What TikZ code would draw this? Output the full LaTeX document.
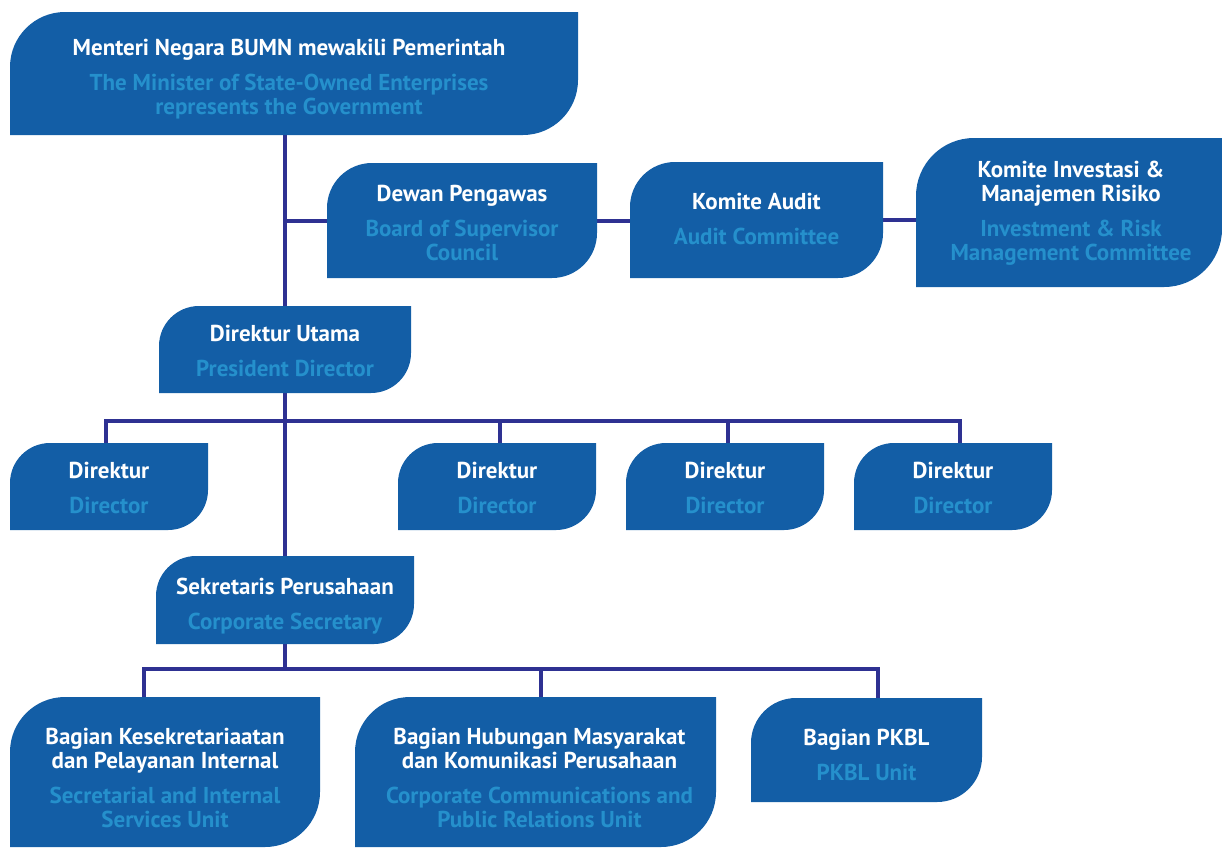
\documentclass[tikz,border=0pt]{standalone}
\usepackage{fontspec}
\setmainfont{PT Sans}
\usetikzlibrary{backgrounds}
\definecolor{boxblue}{HTML}{135EA6}
\definecolor{engblue}{HTML}{2590CC}
\definecolor{linenavy}{HTML}{2E3192}
\newcommand\eng[1]{{\color{engblue}#1}}
\tikzset{
  leaf/.style={inner sep=0pt, outer sep=0pt,
    path picture={
      \fill[boxblue] (path picture bounding box.south west)
        -- ([yshift=-#1pt]path picture bounding box.north west)
        arc[start angle=180,end angle=90,radius=#1pt]
        -- (path picture bounding box.north east)
        -- ([yshift=#1pt]path picture bounding box.south east)
        arc[start angle=0,end angle=-90,radius=#1pt] -- cycle;}},
  txt/.style={inner sep=0pt, align=center, text=white,
    font=\bfseries\fontsize{23}{24}\selectfont},
  conn/.style={line width=4pt, draw=linenavy}
}
\begin{document}
\begin{tikzpicture}[x=1pt,y=1pt]
\useasboundingbox (0,0) rectangle (1222,-847);
% boxes
\node[leaf=55, minimum width=568, minimum height=123] (m) at (294,-73.5) {};
\node[leaf=45, minimum width=270, minimum height=115] (d) at (462,-220.5) {};
\node[leaf=45, minimum width=253, minimum height=116] (ka) at (756.5,-220) {};
\node[leaf=58, minimum width=306, minimum height=149] (ki) at (1069,-212.5) {};
\node[leaf=40, minimum width=252, minimum height=87] (du) at (285,-349.5) {};
\node[leaf=40, minimum width=198, minimum height=87] (d1) at (109,-486.5) {};
\node[leaf=40, minimum width=198, minimum height=87] (d2) at (497,-486.5) {};
\node[leaf=40, minimum width=198, minimum height=87] (d3) at (725,-486.5) {};
\node[leaf=40, minimum width=198, minimum height=87] (d4) at (953,-486.5) {};
\node[leaf=40, minimum width=258, minimum height=88] (sek) at (285,-600) {};
\node[leaf=55, minimum width=310, minimum height=150] (b1) at (165,-772) {};
\node[leaf=55, minimum width=361, minimum height=150] (b2) at (535.5,-772) {};
\node[leaf=45, minimum width=231, minimum height=104] (b3) at (866.5,-750) {};
% texts
\node[txt] (mt) at ([xshift=-5pt,yshift=-6pt]m.center)
  {Menteri Negara BUMN mewakili Pemerintah\\[11pt]\eng{The Minister of State-Owned Enterprises}\\\eng{represents the Government}};
\node[txt] (dt) at ([yshift=-2.5pt]d.center)
  {Dewan Pengawas\\[11pt]\eng{Board of Supervisor}\\\eng{Council}};
\node[txt] (kat) at ([yshift=1pt]ka.center)
  {Komite Audit\\[11pt]\eng{Audit Committee}};
\node[txt] (kit) at ([xshift=2pt,yshift=-1pt]ki.center)
  {Komite Investasi \&\\Manajemen Risiko\\[11pt]\eng{Investment \& Risk}\\\eng{Management Committee}};
\node[txt] (dut) at ([yshift=-1pt]du.center)
  {Direktur Utama\\[11pt]\eng{President Director}};
\node[txt] (d1t) at ([yshift=-1.5pt]d1.center) {Direktur\\[11pt]\eng{Director}};
\node[txt] (d2t) at ([yshift=-1.5pt]d2.center) {Direktur\\[11pt]\eng{Director}};
\node[txt] (d3t) at ([yshift=-1.5pt]d3.center) {Direktur\\[11pt]\eng{Director}};
\node[txt] (d4t) at ([yshift=-1.5pt]d4.center) {Direktur\\[11pt]\eng{Director}};
\node[txt] (sekt) at ([yshift=-6pt]sek.center)
  {Sekretaris Perusahaan\\[11pt]\eng{Corporate Secretary}};
\node[txt] (b1t) at ([yshift=-6pt]b1.center)
  {Bagian Kesekretariaatan\\dan Pelayanan Internal\\[11pt]\eng{Secretarial and Internal}\\\eng{Services Unit}};
\node[txt] (b2t) at ([xshift=4pt,yshift=-6pt]b2.center)
  {Bagian Hubungan Masyarakat\\dan Komunikasi Perusahaan\\[11pt]\eng{Corporate Communications and}\\\eng{Public Relations Unit}};
\node[txt] (b3t) at ([yshift=-4.5pt]b3.center)
  {Bagian PKBL\\[11pt]\eng{PKBL Unit}};
\coordinate (bus1) at (0,-421);
\coordinate (bus2) at (0,-669);
% connectors
\begin{scope}[on background layer]
\draw[conn] (m.south -| du.north) -- (sek.north);
\draw[conn] (d.west -| du.north) -- (d.west);
\draw[conn] (d.east) -- (d.east -| ka.west);
\draw[conn] (ka.east) -- (ka.east -| ki.west);
\draw[conn] ([xshift=-3pt]d1.north) -- ([xshift=-3pt]d1.north |- bus1) -- ([xshift=7pt]d4.north |- bus1) -- ([xshift=7pt]d4.north);
\draw[conn] ([xshift=3pt]d2.north) -- ([xshift=3pt]d2.north |- bus1);
\draw[conn] ([xshift=3pt]d3.north) -- ([xshift=3pt]d3.north |- bus1);
\draw[conn] (sek.south) -- (sek.south |- bus2);
\draw[conn] ([xshift=-21pt]b1.north) -- ([xshift=-21pt]b1.north |- bus2) -- ([xshift=11.5pt]b3.north |- bus2) -- ([xshift=11.5pt]b3.north);
\draw[conn] ([xshift=5.5pt]b2.north) -- ([xshift=5.5pt]b2.north |- bus2);
\end{scope}
\end{tikzpicture}
\end{document}
